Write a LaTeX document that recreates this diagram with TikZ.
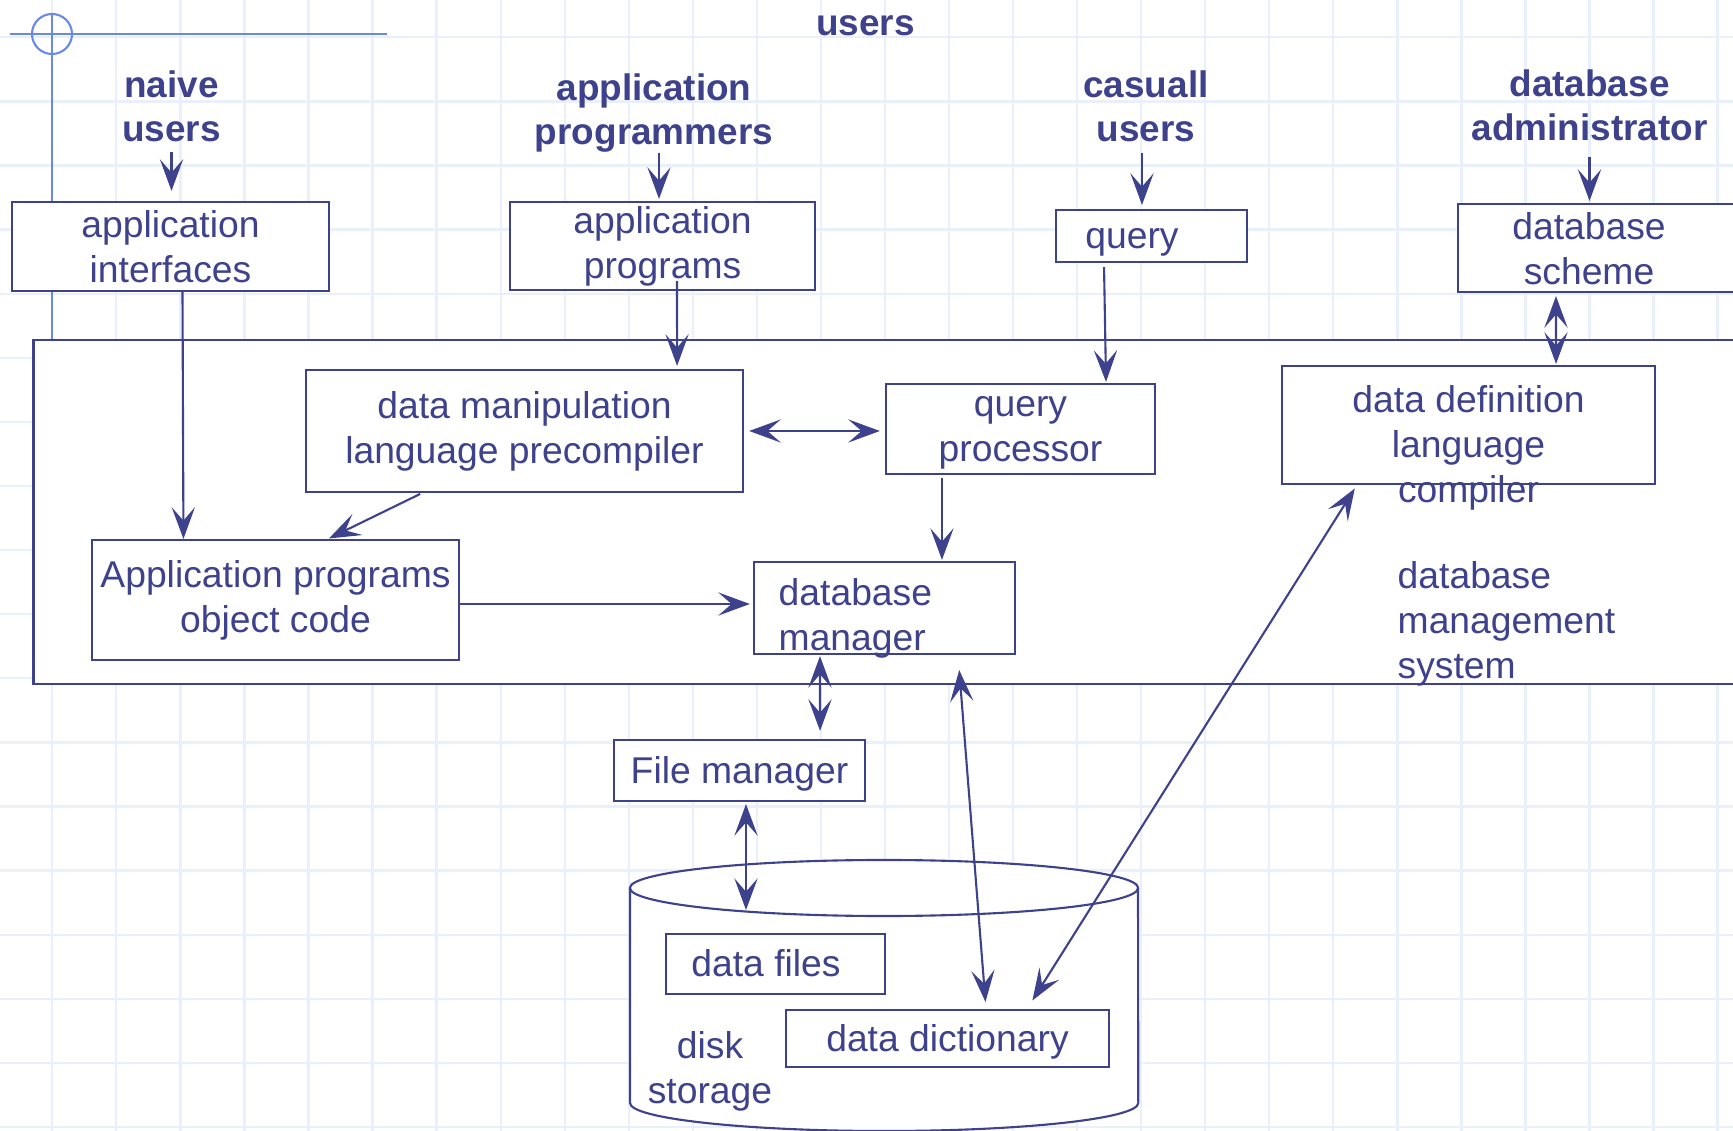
\documentclass[tikz,border=0pt]{standalone}
\usepackage{fontspec}
\setmainfont{Liberation Sans}
\usetikzlibrary{positioning,arrows.meta}
\definecolor{dbblue}{RGB}{62,66,140}
\definecolor{gridblue}{RGB}{234,239,252}
\definecolor{markblue}{RGB}{104,136,236}

\begin{document}
\begin{tikzpicture}[
            x=0.01cm, y=-0.01cm,
            font=\fontsize{10.6}{12.8}\selectfont,
            block/.style={rectangle, draw=dbblue, fill=white, line width=0.6pt, inner sep=0pt, align=center, text=dbblue},
            onerow/.style={text height=7.6pt, text depth=0.4pt},
            txt/.style={inner sep=0pt, align=center, text=dbblue},
            usertxt/.style={inner sep=0pt, align=center, text=dbblue, font=\fontsize{10.5}{12.5}\selectfont\bfseries},
            arrow/.style={-{Stealth[length=9pt, width=6.6pt, inset=3.8pt]}, line width=0.6pt, draw=dbblue},
            dblarrow/.style={{Stealth[length=9pt, width=6.6pt, inset=3.8pt]}-{Stealth[length=9pt, width=6.6pt, inset=3.8pt]}, line width=0.6pt, draw=dbblue},
            gridline/.style={draw=gridblue, line width=0.65pt},
            markline/.style={draw=markblue, line width=0.6pt}
        ]
        \useasboundingbox (0,0) rectangle (1733,1131);
        \clip (0,0) rectangle (1733,1131);
        \fill[white] (0,0) rectangle (1733,1131);

        % background grid
        \foreach \gx in {0,...,26}
            \draw[gridline] ({52.3+64.05*\gx},0) -- ({52.3+64.05*\gx},1131);
        \foreach \gy in {0,...,17}
            \draw[gridline] (0,{37.3+64.1*\gy}) -- (1733,{37.3+64.1*\gy});

        % corner mark
        \draw[markline] (10,34) -- (387,34);
        \draw[markline] (52,14) -- (52,340);
        \draw[markline] (52,34) circle[radius=0.2cm];

        % users
        \node[usertxt, anchor=base] (users) at (865.5,36) {users};
        \node[usertxt, anchor=south] (naive) at (171.5,143) {naive\\users};
        \node[usertxt, anchor=south] (approgs) at (654,153) {application\\programmers};
        \node[usertxt, anchor=south] (casual) at (1146,143) {casuall\\users};
        \node[usertxt, anchor=south] (dba) at (1589.5,142) {database\\administrator};

        \node[block, minimum width=3.17cm, minimum height=0.89cm] (appint) at (170.5,246.5) {application\\interfaces};
        \node[block, minimum width=3.05cm, minimum height=0.88cm] (appprog) at (662.5,246) {application\\programs};
        \node[block, onerow, minimum width=1.91cm, minimum height=0.52cm] (query) at (1151.5,236) {query\hspace*{0.39cm}};
        \node[block, minimum width=3.00cm, minimum height=0.88cm] (dbscheme) at (1608,248) {};
        \node[txt] (schemetxt) at (1589,249) {database\\scheme};

        % database management system
        \node[block, minimum width=17.46cm, minimum height=3.44cm] (dbms) at (907,512) {};
        \node[block, minimum width=4.37cm, minimum height=1.22cm] (dml) at (524.5,431) {data manipulation\\language precompiler};
        \node[block, minimum width=2.69cm, minimum height=0.90cm] (qp) at (1020.5,429) {\vphantom{l}query\\processor};
        \node[block, minimum width=3.73cm, minimum height=1.18cm] (ddl) at (1468.5,425) {};
        \node[txt, anchor=north] (ddltxt) at (1468.5,385) {data definition\\language\\compiler};
        \node[block, minimum width=3.67cm, minimum height=1.20cm] (apobj) at (275.5,600) {Application programs\\object code};
        \node[block, minimum width=2.61cm, minimum height=0.92cm] (dbman) at (884.5,608) {};
        \node[txt, align=left, anchor=north west] (dbmantxt) at (778,578) {database\\manager};
        \node[txt, align=left, anchor=north west] (dbmstxt) at (1397,561) {database\\management\\system};

        \node[block, onerow, minimum width=2.51cm, minimum height=0.61cm] (filemgr) at (739.5,770.5) {File manager};

        % disk storage
        \coordinate (disk) at (884,888);
        \coordinate (diskrim) at (884,910);
        \fill[white] (630,888) -- (630,1103) arc[start angle=180, end angle=360, x radius=2.54cm, y radius=0.28cm]
            -- (1138,888) arc[start angle=0, end angle=180, x radius=2.54cm, y radius=0.28cm] -- cycle;
        \draw[dbblue, line width=0.6pt] (630,888) -- (630,1103)
            arc[start angle=180, end angle=360, x radius=2.54cm, y radius=0.28cm] -- (1138,888);
        \draw[dbblue, line width=0.6pt] (disk) ellipse[x radius=2.54cm, y radius=0.28cm];
        \node[block, onerow, minimum width=2.19cm, minimum height=0.60cm] (datafiles) at (775.5,964) {data files\hspace*{0.19cm}};
        \node[block, onerow, minimum width=3.23cm, minimum height=0.57cm] (datadict) at (947.5,1038.5) {data dictionary};
        \node[txt, anchor=north] (disktxt) at (710,1031) {disk\\storage};

        \draw[arrow, shorten <=0.09cm, shorten >=0.1cm] (naive.south) -- (naive.south |- appint.north);
        \draw[arrow, shorten >=0.02cm] ([xshift=0.05cm]approgs.south) -- ([xshift=0.05cm]approgs.south |- appprog.north);
        \draw[arrow, shorten <=0.1cm, shorten >=0.04cm] ([xshift=-0.04cm]casual.south) -- ([xshift=-0.04cm]casual.south |- query.north);
        \draw[arrow, shorten <=0.15cm, shorten >=0.02cm] (dba.south) -- (dba.south |- dbscheme.north);
        \draw[arrow] ([xshift=0.12cm]appint.south) -- ([xshift=-0.92cm]apobj.north);
        \draw[arrow, shorten <=-0.1cm, shorten >=0.03cm] ([xshift=0.145cm]appprog.south) -- ([xshift=1.525cm]dml.north);
        \draw[arrow, shorten <=0.04cm, shorten >=0.01cm] ([xshift=-0.475cm]query.south) -- ([xshift=0.855cm]qp.north);
        \draw[dblarrow, shorten <=0.03cm, shorten >=0.01cm] ([xshift=-0.52cm]dbscheme.south) -- ([xshift=0.875cm]ddl.north);
        \draw[dblarrow, shorten <=0.05cm, shorten >=0.05cm] (dml.east) -- (dml.east -| qp.west);
        \draw[arrow, shorten <=0.02cm, shorten >=0.01cm] ([xshift=-1.025cm]dml.south) -- ([xshift=0.525cm]apobj.north);
        \draw[arrow, shorten >=0.03cm] ([yshift=-0.04cm]apobj.east) -- ([yshift=-0.04cm]apobj.east -| dbman.west);
        \draw[arrow, shorten <=0.03cm, shorten >=0.01cm] ([xshift=-0.785cm]qp.south) -- ([xshift=-0.785cm]qp.south |- dbman.north);
        \draw[dblarrow, shorten <=0.01cm, shorten >=0.08cm] ([xshift=-0.645cm]dbman.south) -- ([xshift=0.805cm]filemgr.north);
        \draw[dblarrow, shorten <=0.02cm] ([xshift=0.065cm]filemgr.south) -- ([xshift=0.065cm]filemgr.south |- diskrim);
        \draw[dblarrow, shorten <=0.15cm, shorten >=0.07cm] ([xshift=0.735cm]dbman.south) -- ([xshift=0.385cm]datadict.north);
        \draw[dblarrow, shorten <=0.04cm, shorten >=0.1cm] ([xshift=-1.115cm]ddl.south) -- ([xshift=0.795cm]datadict.north);
        \end{tikzpicture}
\end{document}
